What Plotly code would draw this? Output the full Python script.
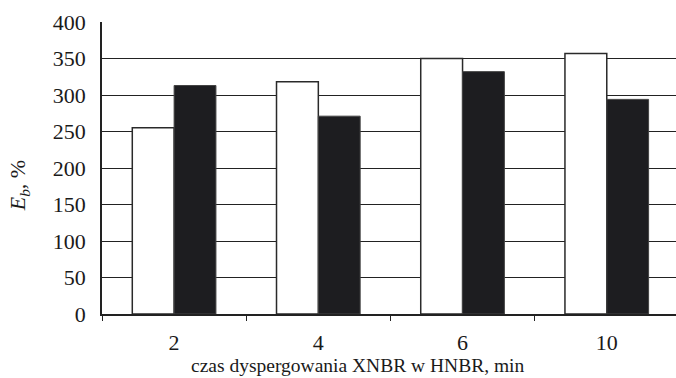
import plotly.graph_objects as go

# Dispersion time of XNBR in HNBR (min) and elongation at break Eb (%)
categories = ["2", "4", "6", "10"]
series_white = [255, 318, 350, 357]
series_black = [313, 271, 332, 294]
y_ticks = [0, 50, 100, 150, 200, 250, 300, 350, 400]

FONT = "Liberation Serif, Times New Roman, serif"

fig = go.Figure()
fig.add_trace(go.Bar(
    x=categories, y=series_white,
    marker=dict(color="#ffffff", line=dict(color="#2a2a2a", width=1.5)),
    showlegend=False,
))
fig.add_trace(go.Bar(
    x=categories, y=series_black,
    marker=dict(color="#1d1d20", line=dict(color="#444444", width=1)),
    showlegend=False,
))

fig.update_layout(
    width=676, height=378,
    margin=dict(l=102, r=0, t=22, b=64),
    paper_bgcolor="white", plot_bgcolor="white",
    barmode="group", bargap=0.42, bargroupgap=0,
    font=dict(family=FONT, size=22, color="#1a1a1a"),
    xaxis=dict(
        type="category", range=[-0.5, 3.48],
        tickson="boundaries", ticks="outside", ticklen=5, tickwidth=1.2,
        tickcolor="#222222",
        showline=True, linecolor="#222222", linewidth=1.5,
        showgrid=False, ticklabelstandoff=8,
        tickfont=dict(family=FONT, size=22),
    ),
    yaxis=dict(
        range=[0, 400], tickvals=y_ticks,
        showgrid=True, gridcolor="#222222", gridwidth=1.2,
        showline=True, linecolor="#222222", linewidth=1.5,
        ticks="", ticklabelstandoff=10,
        tickfont=dict(family=FONT, size=22),
        zeroline=False,
    ),
    annotations=[
        dict(
            text="<i>E<sub>b</sub>,</i> %",
            xref="paper", yref="paper", x=-0.145, y=0.44,
            xanchor="center", yanchor="middle", textangle=-90,
            showarrow=False, font=dict(family=FONT, size=22),
        ),
        dict(
            text="czas dyspergowania XNBR w HNBR, min",
            xref="paper", yref="paper", x=(358 - 102) / 574, y=-0.178,
            xanchor="center", yanchor="middle",
            showarrow=False, font=dict(family=FONT, size=19.5),
        ),
    ],
)

fig.write_html("out.html")
